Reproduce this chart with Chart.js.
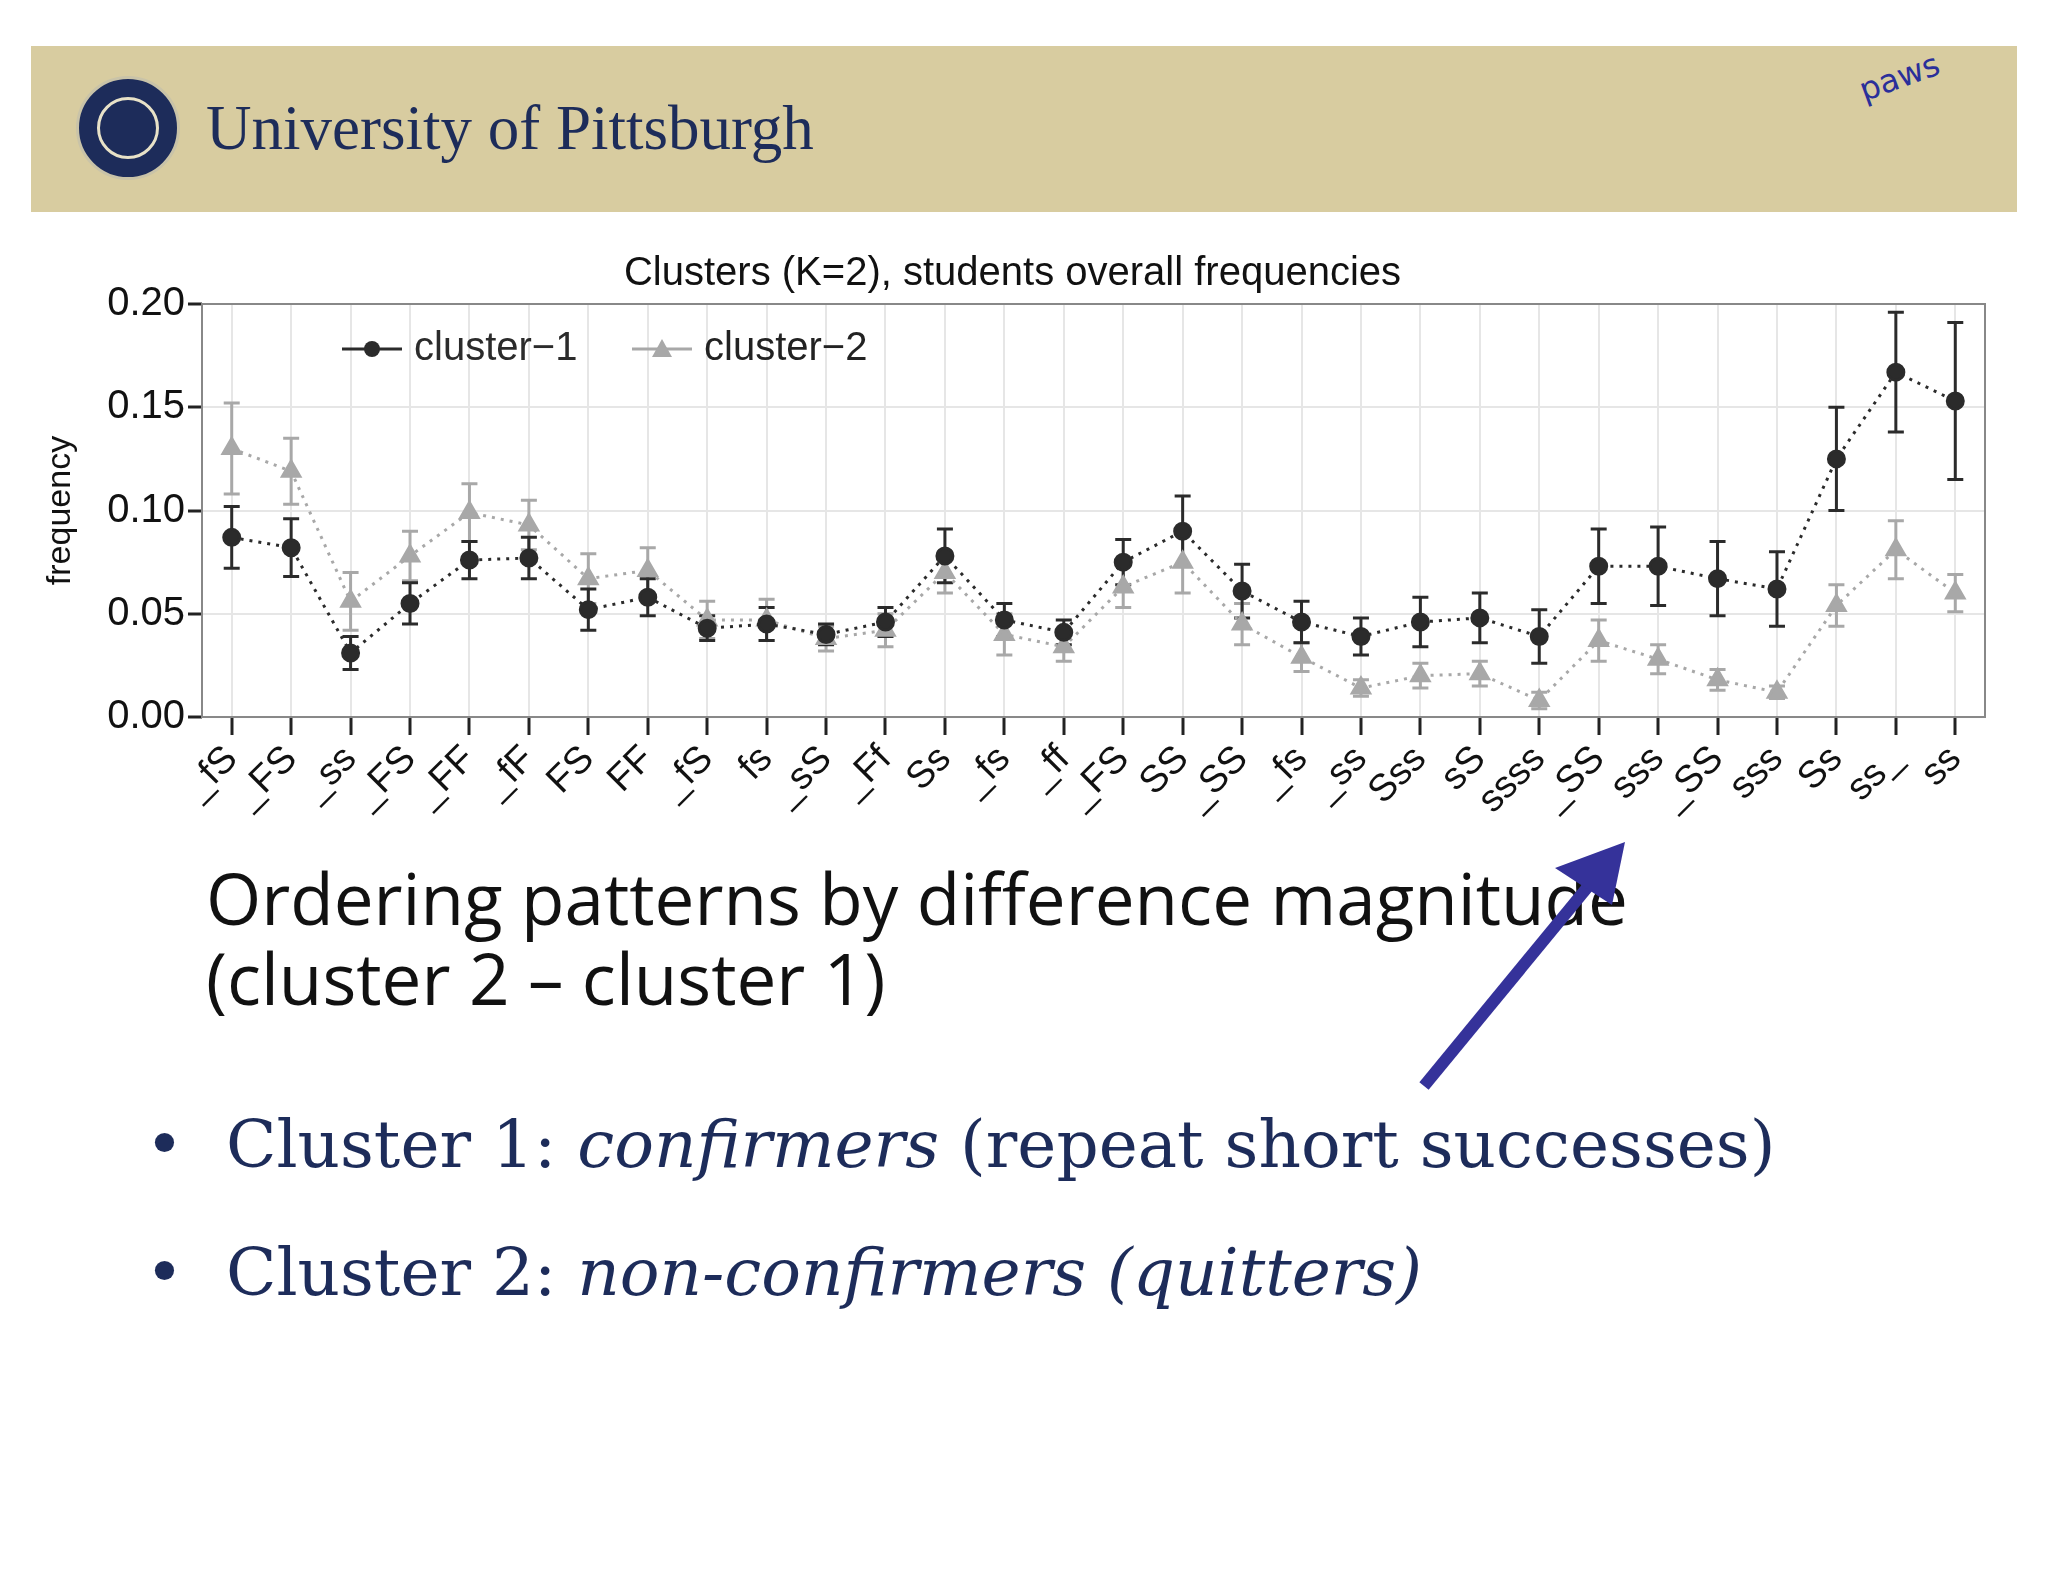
<!DOCTYPE html>
<html><head><meta charset="utf-8">
<script src="https://cdn.jsdelivr.net/npm/chart.js@4"></script>
<style>
body{margin:0;width:2048px;height:1582px;background:#fff;position:relative;overflow:hidden;font-family:"Open Sans",sans-serif}
#hdr{position:absolute;left:31px;top:46px;width:1986px;height:166px;background:#d8cca0}
#seal{position:absolute;left:76px;top:76px;width:104px;height:104px;border-radius:50%;background:#1d2c5a;border:3px solid #c9c3a8;box-sizing:border-box}
#seal div{position:absolute;left:18px;top:18px;width:62px;height:62px;border-radius:50%;border:3px solid #e8e2c8;box-sizing:border-box}
#uni{position:absolute;left:206px;top:92px;font-family:"Liberation Serif",serif;font-size:63px;color:#1d2c5a}
#paws{position:absolute;left:1858px;top:58px;font-family:"DejaVu Sans";font-size:32px;color:#2a2f9a;transform:rotate(-20deg)}
#wrap{position:absolute;left:40px;top:250px;width:1960px;height:575px}
.t1{position:absolute;left:206px;font-size:71px;color:#111;font-family:"Open Sans",sans-serif;line-height:1}
.b{position:absolute;left:145px;font-family:"DejaVu Serif",serif;font-size:66px;color:#1d2c5a;line-height:1}
.b i{font-style:italic}
</style></head><body>
<div id="hdr"></div>
<div id="seal"><div></div></div>
<div id="uni">University of Pittsburgh</div>
<div id="paws">paws</div>
<div id="wrap"><canvas id="c" width="1960" height="575"></canvas></div>
<div class="t1" style="top:862px">Ordering patterns by difference magnitude</div>
<div class="t1" style="top:942px">(cluster 2 – cluster 1)</div>
<div class="b" style="top:1112px">•&nbsp; Cluster 1: <i>confirmers</i> (repeat short successes)</div>
<div class="b" style="top:1240px">•&nbsp; Cluster 2: <i>non-confirmers (quitters)</i></div>
<svg style="position:absolute;left:0;top:0" width="2048" height="1582">
<line x1="1424" y1="1086" x2="1600" y2="872" stroke="#35329a" stroke-width="12"/>
<polygon points="1625,842 1555,868 1612,905" fill="#35329a"/>
</svg>
<script>
const labels=["_fS","_FS","_ss","_FS","_FF","_fF","FS","FF","_fS","fs","_sS","_Ff","Ss","_fs","_ff","_FS","SS","_SS","_fs","_ss","Sss","sS","ssss","_SS","sss","_SS","sss","Ss","ss_","ss"];
const c1=[0.087,0.082,0.031,0.055,0.076,0.077,0.052,0.058,0.043,0.045,0.040,0.046,0.078,0.047,0.041,0.075,0.090,0.061,0.046,0.039,0.046,0.048,0.039,0.073,0.073,0.067,0.062,0.125,0.167,0.153];
const e1=[0.015,0.014,0.008,0.010,0.009,0.010,0.010,0.009,0.006,0.008,0.005,0.007,0.013,0.008,0.006,0.011,0.017,0.013,0.010,0.009,0.012,0.012,0.013,0.018,0.019,0.018,0.018,0.025,0.029,0.038];
const c2=[0.130,0.119,0.056,0.078,0.099,0.093,0.067,0.071,0.047,0.047,0.038,0.042,0.070,0.040,0.034,0.063,0.075,0.045,0.029,0.014,0.020,0.021,0.008,0.037,0.028,0.018,0.012,0.054,0.081,0.060];
const e2=[0.022,0.016,0.014,0.012,0.014,0.012,0.012,0.011,0.009,0.010,0.006,0.008,0.010,0.010,0.007,0.010,0.015,0.010,0.007,0.004,0.006,0.006,0.004,0.010,0.007,0.005,0.003,0.010,0.014,0.009];
const yTicks=[0,0.05,0.10,0.15,0.20];
const errPlugin={id:'err',beforeDatasetsDraw(ch){
  const {ctx,scales:{x,y}}=ch;
  [[c2,e2,'#a8a8a8'],[c1,e1,'#2b2b2b']].forEach(([v,e,col])=>{
    ctx.save();ctx.strokeStyle=col;ctx.lineWidth=3;
    v.forEach((val,i)=>{const px=x.getPixelForValue(i),t=y.getPixelForValue(val+e[i]),b=y.getPixelForValue(val-e[i]);
      ctx.beginPath();ctx.moveTo(px,t);ctx.lineTo(px,b);ctx.moveTo(px-8,t);ctx.lineTo(px+8,t);ctx.moveTo(px-8,b);ctx.lineTo(px+8,b);ctx.stroke();});
    ctx.restore();});
},afterDraw(ch){
  const {ctx,chartArea:a}=ch;ctx.save();
  const lx=a.left+140,ly=a.top+45;
  ctx.strokeStyle='#2b2b2b';ctx.lineWidth=3;ctx.beginPath();ctx.moveTo(lx,ly);ctx.lineTo(lx+60,ly);ctx.stroke();
  ctx.fillStyle='#2b2b2b';ctx.beginPath();ctx.arc(lx+30,ly,8,0,7);ctx.fill();
  ctx.font='40px "Liberation Sans"';ctx.textBaseline='middle';ctx.fillText('cluster\u22121',lx+72,ly);
  const l2=lx+290;ctx.strokeStyle='#a8a8a8';ctx.beginPath();ctx.moveTo(l2,ly);ctx.lineTo(l2+60,ly);ctx.stroke();
  ctx.fillStyle='#a8a8a8';ctx.beginPath();ctx.moveTo(l2+30,ly-10);ctx.lineTo(l2+40,ly+8);ctx.lineTo(l2+20,ly+8);ctx.fill();
  ctx.fillStyle='#222';ctx.fillText('cluster\u22122',l2+72,ly);
  ctx.strokeStyle='#888';ctx.lineWidth=2;ctx.strokeRect(a.left,a.top,a.right-a.left,a.bottom-a.top);
  ctx.restore();}};
new Chart(document.getElementById('c'),{type:'line',
data:{labels,datasets:[
 {label:'cluster-2',data:c2,borderColor:'#a8a8a8',backgroundColor:'#a8a8a8',borderDash:[3,6],borderWidth:3,pointStyle:'triangle',pointRadius:10,order:2},
 {label:'cluster-1',data:c1,borderColor:'#2b2b2b',backgroundColor:'#2b2b2b',borderDash:[3,6],borderWidth:3,pointStyle:'circle',pointRadius:8,order:1}]},
options:{responsive:false,animation:false,devicePixelRatio:1,
 layout:{padding:{right:15}},
 plugins:{legend:{display:false},tooltip:{enabled:false},
  title:{display:true,text:'Clusters (K=2), students overall frequencies',color:'#111',font:{family:'Liberation Sans',size:40,weight:'normal'},padding:{top:0,bottom:6}}},
 scales:{
  x:{offset:true,grid:{color:'#e6e6e6',lineWidth:2,tickColor:'#222',tickLength:18,tickWidth:3},border:{display:false},
    ticks:{autoSkip:false,minRotation:45,maxRotation:45,color:'#111',font:{family:'Liberation Sans',size:38},padding:2}},
  y:{min:0,max:0.2,afterBuildTicks(s){s.ticks=yTicks.map(v=>({value:v}));},afterFit(s){s.width=162;},
    grid:{color:'#e6e6e6',lineWidth:2,tickColor:'#222',tickLength:14,tickWidth:3},border:{display:false},
    ticks:{color:'#111',font:{family:'Liberation Sans',size:40},callback:v=>v.toFixed(2)},
    title:{display:true,text:'frequency',color:'#111',font:{family:'Liberation Sans',size:34},padding:0}}}},
plugins:[errPlugin]});
</script>
</body></html>
